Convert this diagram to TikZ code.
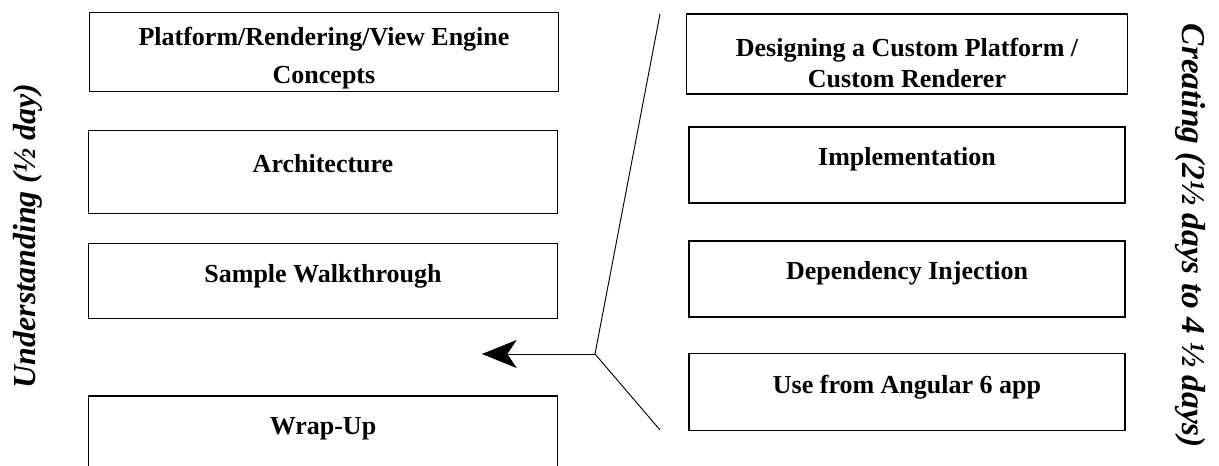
\documentclass[tikz,border=0pt]{standalone}
\usepackage{fontspec}
\setmainfont{Liberation Serif}
\usepackage{tikz}
\usetikzlibrary{positioning,calc,arrows.meta}
\newlength\px
\setlength\px{0.75pt}

\begin{document}
\begin{tikzpicture}[x=0.75pt, y=-0.75pt,
    topic/.style={draw, line width=1.4pt, font=\bfseries\fontsize{19.5}{23.5}\selectfont, align=center, inner sep=0pt},
    onerow/.style={topic, text height=0.7em, text depth=0.55em},
    side/.style={font=\bfseries\itshape\fontsize{24}{29}\selectfont, inner sep=0pt}]
    \useasboundingbox (0,0) rectangle (1219,466);

    % Understanding column
    \node[topic, minimum width=469\px, minimum height=79\px, font=\bfseries\fontsize{19.5}{28.5}\selectfont, text height=52pt] (concepts) at (324,52) {Platform/Rendering/View Engine\\Concepts};
    \node[onerow, minimum width=469\px, minimum height=83\px] (arch) at (323,172) {Architecture};
    \node[onerow, minimum width=469\px, minimum height=75\px] (walk) at (323,281) {Sample Walkthrough};
    \node[onerow, minimum width=469\px, minimum height=76\px, anchor=north] (wrap) at (323,395) {Wrap-Up};

    % Creating column
    \node[topic, minimum width=441\px, minimum height=80\px, line width=1.2pt, text height=50.5pt] (design) at (907,54) {Designing a Custom Platform /\\Custom Renderer};
    \node[onerow, minimum width=436\px, minimum height=76\px, line width=1.2pt] (impl) at (907,165) {Implementation};
    \node[onerow, minimum width=436\px, minimum height=76\px, line width=1.2pt] (di) at (907,279) {Dependency Injection};
    \node[onerow, minimum width=436\px, minimum height=77\px, line width=1.2pt] (use) at (907,392) {Use from Angular 6 app};

    % Side titles
    \node[side, rotate=90] (under) at (28,236) {Understanding (½ day)};
    \node[side, rotate=-90, font=\bfseries\itshape\fontsize{25}{30}\selectfont] (create) at (1190,236) {Creating (2½ days to 4 ½ days)};

    % Bracket and arrow
    \coordinate (brtop) at (660,14);
    \coordinate (brbot) at (660,430);
    \coordinate (junc) at (595,354);
    \coordinate (tip) at (482,354);
    \draw[line width=0.7pt] (brtop) -- (junc) -- (brbot);
    \draw[line width=0.7pt, -{Stealth[length=26pt, width=21pt, inset=7pt]}] (junc) -- (tip);
\end{tikzpicture}
\end{document}
